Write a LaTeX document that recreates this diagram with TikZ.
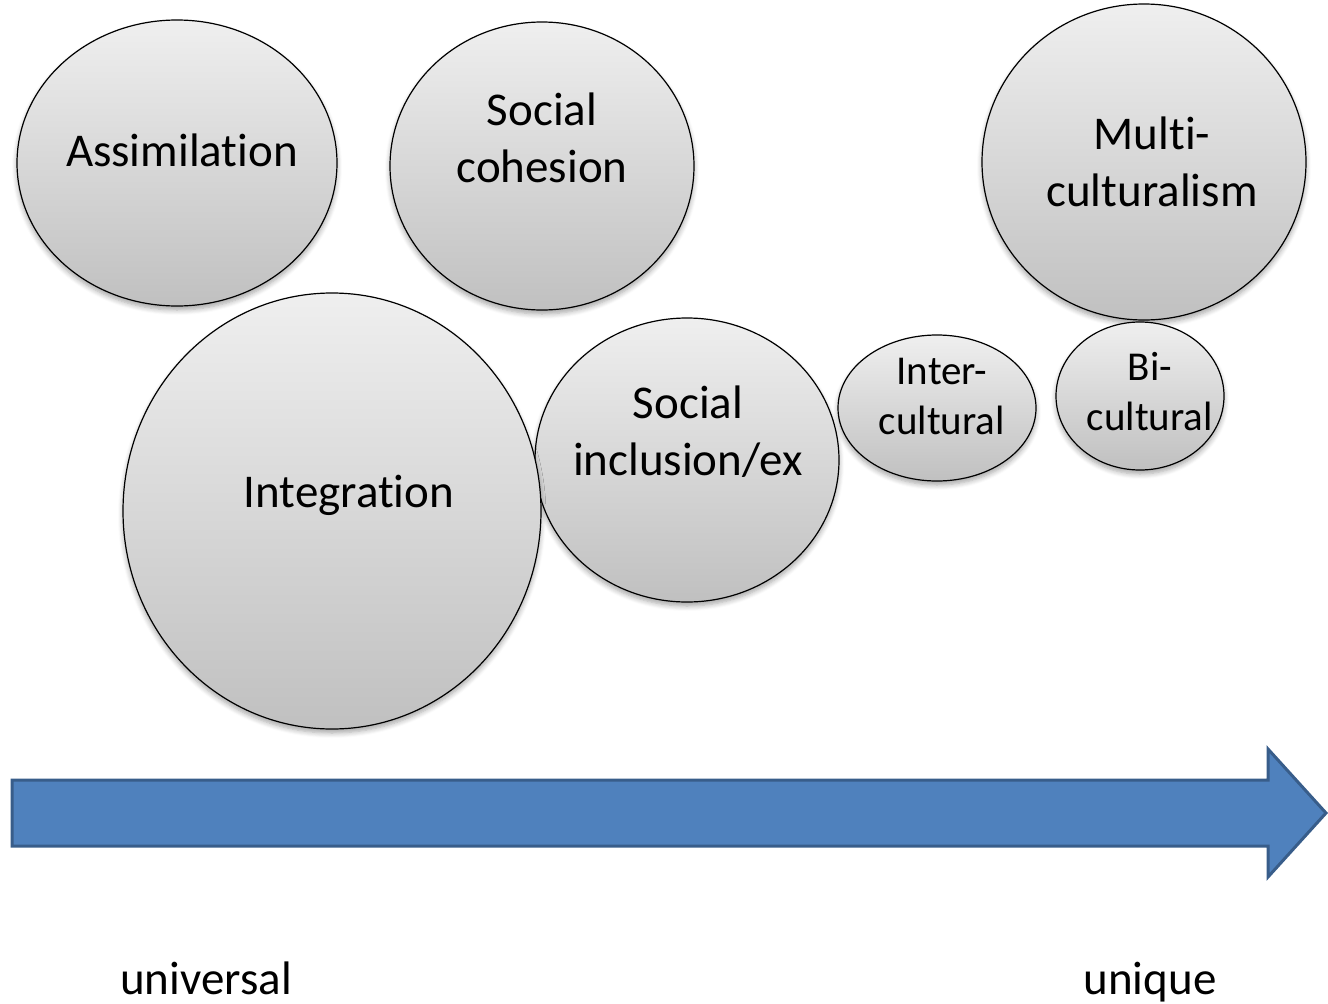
\documentclass[tikz,border=0pt]{standalone}
\usepackage{fontspec}
\setmainfont{Carlito}[Ligatures=NoCommon]
\newcommand{\nolig}{\kern0pt{}}
\usetikzlibrary{shapes.geometric,shadows.blur}
\definecolor{ctop}{HTML}{EFEFEF}
\definecolor{cbot}{HTML}{C0C0C0}
\definecolor{arrfill}{HTML}{4F81BD}
\definecolor{arrline}{HTML}{385D8A}
\tikzset{
  bubble/.style={ellipse, draw=black, line width=1.2pt, inner sep=0pt,
    top color=ctop, bottom color=cbot,
    blur shadow={shadow xshift=0pt, shadow yshift=-4pt, shadow blur steps=6, shadow opacity=35, shadow blur radius=5pt}},
  bigtxt/.style={font=\fontsize{47}{57}\selectfont, align=center, inner sep=0pt},
  smalltxt/.style={font=\fontsize{41}{50}\selectfont, align=center, inner sep=0pt},
  axistxt/.style={font=\fontsize{47}{57}\selectfont, inner sep=0pt},
}
\begin{document}
\begin{tikzpicture}[x=1pt,y=-1pt]
\useasboundingbox (0,0) rectangle (1328,1004);
% bubbles
\node[bubble, minimum width=320pt, minimum height=286pt] (assim) at (177,163) {};
\node[bubble, minimum width=304pt, minimum height=288pt] (cohes) at (542,166) {};
\node[bubble, minimum width=324pt, minimum height=316pt] (multi) at (1144,162) {};
\node[bubble, minimum width=304pt, minimum height=284pt] (inclu) at (687,460) {};
\node[bubble, minimum width=418pt, minimum height=436pt] (integ) at (332,511) {};
\node[bubble, minimum width=198pt, minimum height=146pt] (inter) at (937,408) {};
\node[bubble, minimum width=168pt, minimum height=148pt] (bicul) at (1140,396) {};
% texts
\node[bigtxt] (tassim) at (182,150) {Assimilat\nolig ion};
\node[bigtxt] (tcohes) at (542,138) {Social\\cohesion};
\node[bigtxt] (tmulti) at (1152,162) {Mult\nolig i-\\culturalism};
\node[bigtxt] (tinteg) at (349,495) {Integrat\nolig ion};
\node[bigtxt] (tinclu) at (688,432) {Social\\inclusion/ex};
\node[smalltxt] (tinter) at (942,396) {Inter-\\cultural};
\node[smalltxt] (tbicul) at (1150,392) {Bi-\\cultural};
% arrow
\draw[fill=arrfill, draw=arrline, line width=3pt, line join=miter]
  (12,780) -- (1268,780) -- (1268,749) -- (1326,813) -- (1268,877) -- (1268,846) -- (12,846) -- cycle;
% axis labels
\node[axistxt, anchor=base] (universal) at (206,994) {universal};
\node[axistxt, anchor=base] (unique) at (1150,994) {unique};
\end{tikzpicture}
\end{document}
